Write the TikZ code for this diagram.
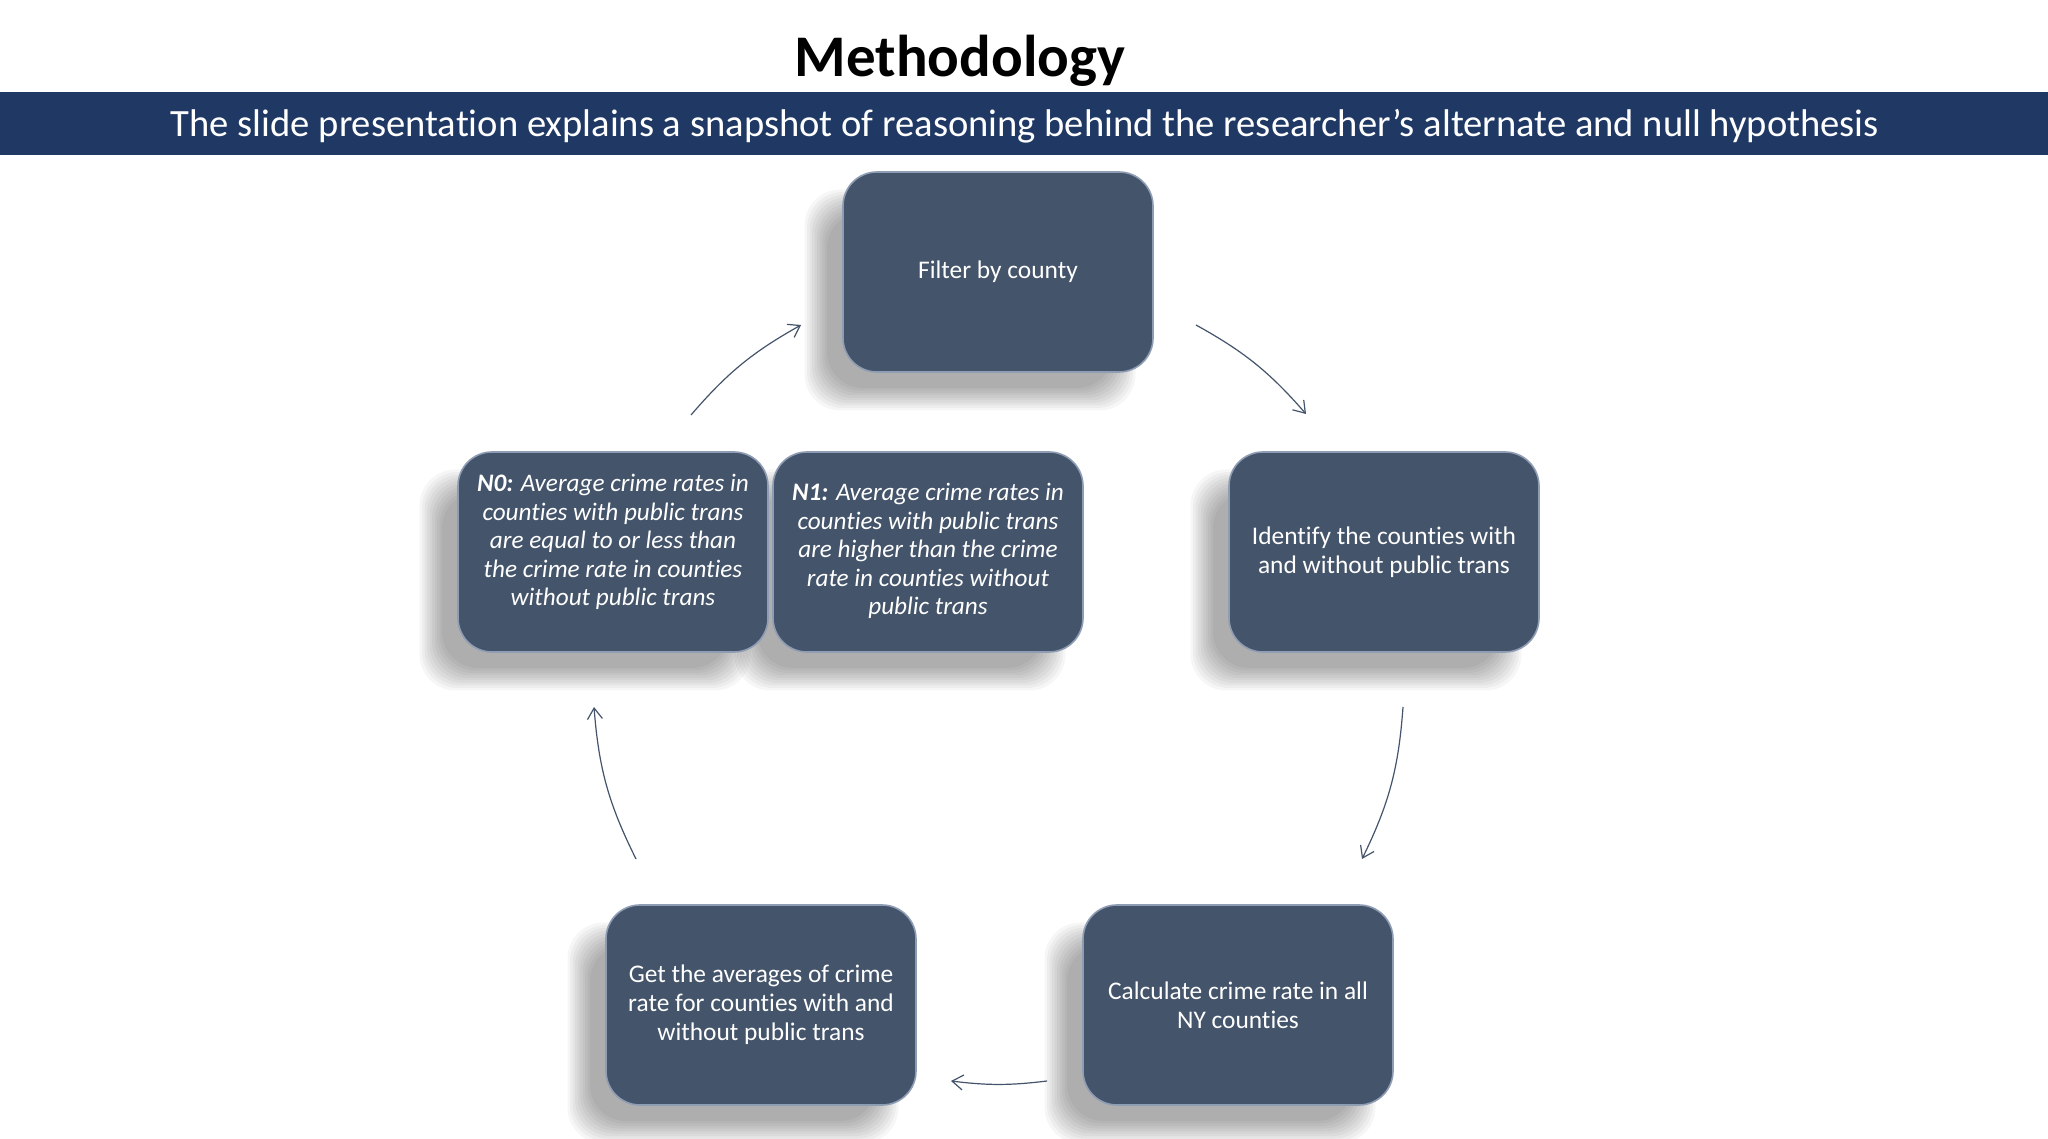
\documentclass[tikz,border=0pt]{standalone}
\usepackage{fontspec}
\setmainfont{Carlito}[Ligatures=NoCommon]
\usetikzlibrary{arrows.meta}
\definecolor{banner}{HTML}{203864}
\definecolor{boxfill}{HTML}{44546A}
\definecolor{boxedge}{HTML}{8E9CB4}
\definecolor{arrowc}{HTML}{44546A}
\tikzset{
 stepbox/.style={rectangle, rounded corners=34pt, minimum width=310pt, minimum height=200pt, fill=boxfill, draw=boxedge, line width=1.6pt, text=white, align=center, inner sep=0pt, font=\fontsize{25.4}{29}\selectfont},
 hypo/.style={text=white, align=center, inner sep=0pt, font=\fontsize{25.2}{28.5}\selectfont\itshape},
 flow/.style={draw=arrowc, line width=1.2pt, -{Straight Barb[length=11pt,width=15pt]}},
}
\newcommand\mkshadow[2]{%
 \foreach \k in {0,...,9}{
   \fill[black, opacity=0.037, rounded corners=36pt] ({#1-155-28-\k*2.5+12},{#2-100-28-\k*2.5+12}) rectangle ({#1+155-28+\k*2.5-12},{#2+100-28+\k*2.5-12});
 }}
\begin{document}
\begin{tikzpicture}[x=1pt,y=1pt]
\useasboundingbox (0,0) rectangle (2048,1138);
\fill[white] (0,0) rectangle (2048,1138);
% title and banner
\node[anchor=base, font=\fontsize{59}{65}\selectfont\bfseries] (title) at (960,1061) {Methodology};
\fill[banner] (0,983) rectangle (2048,1046);
\node[anchor=base, text=white, font=\fontsize{38.6}{44}\selectfont] (subtitle) at (1025,1001) {The slide presentation explains a snapshot of reasoning behind the researcher’s alternate and null hypothesis};
% shadows
\mkshadow{998}{866}
\mkshadow{613}{586}
\mkshadow{928}{586}
\mkshadow{1384}{586}
\mkshadow{1238}{133}
\mkshadow{761}{133}
% boxes
\node[stepbox] (filter) at (998,866) {Filter by county};
\node[stepbox] (identify) at (1384,586) {Identify the counties with\\and without public trans};
\node[stepbox] (calc) at (1238,133) {Calculate crime rate in all\\NY counties};
\node[stepbox] (get) at (761,133) {Get the averages of crime\\rate for counties with and\\without public trans};
\node[stepbox] (n0) at (613,586) {};
\node[hypo] (n0text) at (613,596) {\textbf{N0:} Average crime rates in\\counties with public trans\\are equal to or less than\\the crime rate in counties\\without public trans};
\node[stepbox] (n1) at (928,586) {};
\node[hypo] (n1text) at (928,587) {\textbf{N1:} Average crime rates in\\counties with public trans\\are higher than the crime\\rate in counties without\\public trans};
% arrow end points
\coordinate (a1s) at (1196,813); \coordinate (a1e) at (1306,724);
\coordinate (a2s) at (1403,431); \coordinate (a2e) at (1362,279);
\coordinate (a3s) at (1047,57);  \coordinate (a3e) at (951,57);
\coordinate (a4s) at (636,279);  \coordinate (a4e) at (594,431);
\coordinate (a5s) at (691,723);  \coordinate (a5e) at (801,813);
\draw[flow] (a1s) to[bend left=10] (a1e);
\draw[flow] (a2s) to[bend left=11] (a2e);
\draw[flow] (a3s) to[bend left=7] (a3e);
\draw[flow] (a4s) to[bend left=11] (a4e);
\draw[flow] (a5s) to[bend left=10] (a5e);
\end{tikzpicture}
\end{document}
